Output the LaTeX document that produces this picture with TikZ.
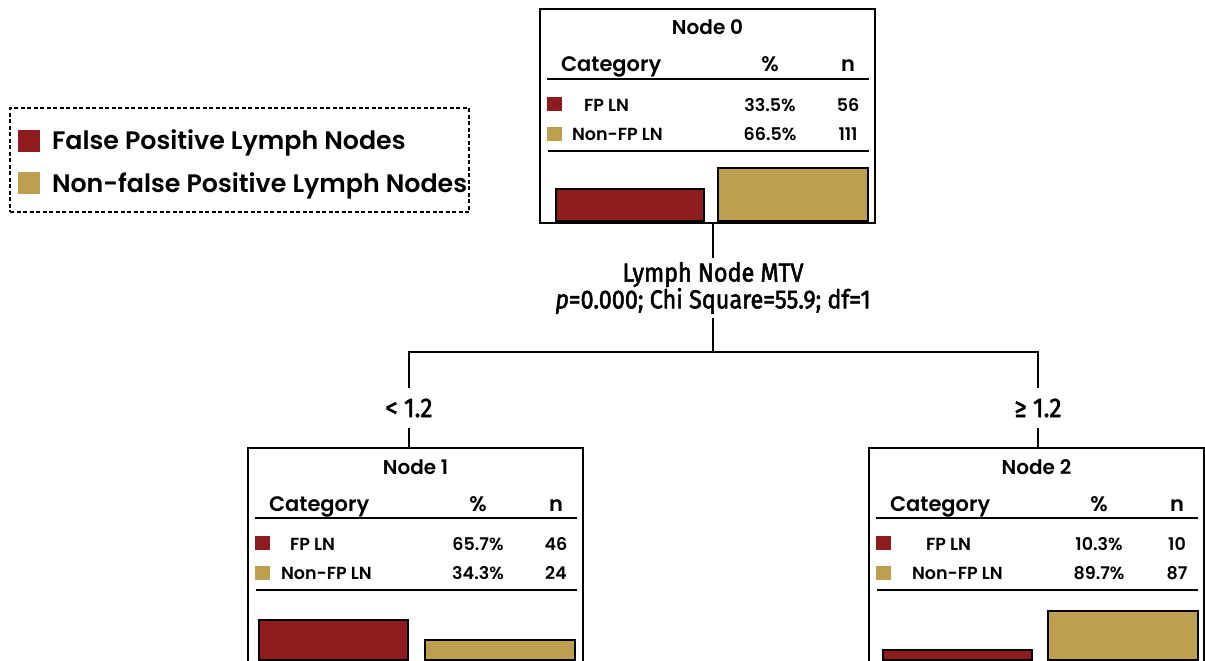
\documentclass[tikz,border=0pt]{standalone}
\usepackage{fontspec}
\setmainfont{Poppins}[BoldFont={Poppins SemiBold}]
\newfontfamily\splitfont{Fira Sans}[FakeStretch=0.9, FakeBold=2]
\definecolor{fpred}{HTML}{8E1B1E}
\definecolor{nongold}{HTML}{BE9E4F}
\begin{document}
\begin{tikzpicture}[x=1pt, y=-1pt,
    every node/.style = {inner sep=0pt, outer sep=0pt},
    treebox/.style = {draw, line width=1.5pt, anchor=north west,
      minimum width=335pt, minimum height=214pt},
    titletext/.style = {anchor=base, font=\bfseries\fontsize{20}{22}\selectfont},
    headtext/.style = {font=\bfseries\fontsize{21}{24}\selectfont},
    rowtext/.style = {font=\bfseries\fontsize{17.5}{20}\selectfont},
    swatch/.style = {minimum width=15pt, minimum height=14pt},
    rule/.style = {line width=1.6pt},
    bar/.style = {draw, line width=1.5pt},
    link/.style = {line width=1.5pt},
    splittext/.style = {align=center, minimum height=60pt,
      font=\splitfont\fontsize{26}{24}\selectfont},
    cuttext/.style = {minimum height=40pt,
      font=\splitfont\fontsize{27}{28}\selectfont}]
  \useasboundingbox (0,0) rectangle (1205,661);

  % legend
  \node[draw, dash pattern=on 4pt off 2.5pt, line width=1.4pt, anchor=north west,
    minimum width=459pt, minimum height=104pt] (legend) at (10,108) {};
  \node[minimum size=22pt, fill=fpred] (keyfp) at (29,141) {};
  \node[minimum size=22pt, fill=nongold] (keynon) at (29,183) {};
  \node[anchor=base west, font=\bfseries\fontsize{25.3}{28}\selectfont]
    (keyfptext) at (52,149) {False Positive Lymph Nodes};
  \node[anchor=base west, font=\bfseries\fontsize{25.3}{28}\selectfont]
    (keynontext) at (52,192) {Non-false Positive Lymph Nodes};

  % tree nodes
  \foreach \id/\lx/\ty/\pa/\na/\pb/\nb/\fx/\nx/\ra/\rb/\ga/\gb/\rt/\gt in {
      0/540/9/33.5/56/66.5/111/44/32/16/164/178/328/180/159,
      1/248/448/65.7/46/34.3/24/42/33/11/160/177/327/172/192,
      2/869/448/10.3/10/89.7/87/57/43/14/163/179/329/202/163} {
    \begin{scope}[shift={(\lx,\ty)}]
      \node[treebox] (box\id) at (0,0) {};
      \node[titletext] (title\id) at (167.5,26) {Node \id};
      \node[headtext, anchor=base west] (cat\id) at (21,63) {Category};
      \node[headtext, anchor=base] (pct\id) at (230,63) {\%};
      \node[headtext, anchor=base] (cnt\id) at (308,63) {n};
      \draw[rule] (7,70) -- (329,70);
      \node[swatch, fill=fpred] (sqa\id) at (14.5,95) {};
      \node[rowtext, anchor=base west] (laba\id) at (\fx,102) {FP LN};
      \node[rowtext, anchor=base] (pcta\id) at (230,102) {\pa\%};
      \node[rowtext, anchor=base] (cnta\id) at (308,102) {\na};
      \node[swatch, fill=nongold] (sqb\id) at (14.5,125) {};
      \node[rowtext, anchor=base west] (labb\id) at (\nx,131) {Non-FP LN};
      \node[rowtext, anchor=base] (pctb\id) at (230,131) {\pb\%};
      \node[rowtext, anchor=base] (cntb\id) at (308,131) {\nb};
      \draw[rule] (8,142) -- (329,142);
      \draw[bar, fill=fpred] (\ra,\rt) rectangle (\rb,212);
      \draw[bar, fill=nongold] (\ga,\gt) rectangle (\gb,212);
    \end{scope}
  }

  % split
  \node[splittext] (split) at (713,288)
    {Lymph Node MTV\\\textit{p}=0.000; Chi Square=55.9; df=1};
  \node[cuttext] (lt) at (409,408) {< 1.2};
  \node[cuttext] (ge) at (1038,408) {≥ 1.2};
  \coordinate (fork) at (713,352);
  \draw[link] (box0.south -| split) -- (split.north);
  \draw[link] (split.south) -- (fork);
  \draw[link] (lt.north) |- (fork) -| (ge.north);
  \draw[link] (lt.south) -- (lt.south |- box1.north);
  \draw[link] (ge.south) -- (ge.south |- box2.north);
\end{tikzpicture}
\end{document}
